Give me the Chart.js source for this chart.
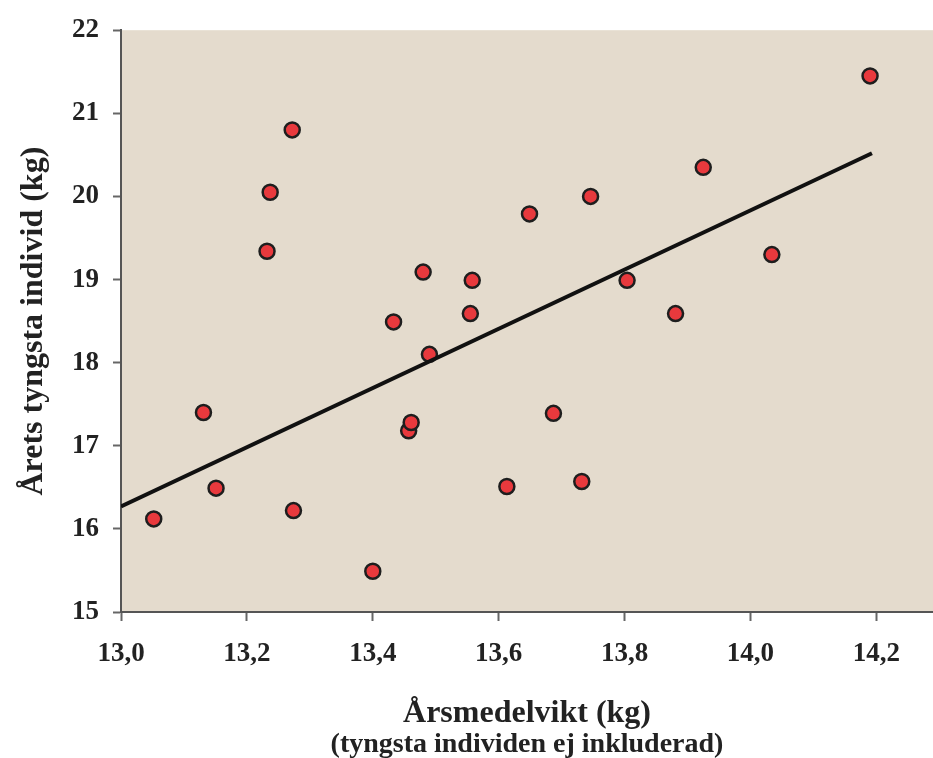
<!DOCTYPE html>
<html>
<head>
<meta charset="utf-8">
<script src="https://cdn.jsdelivr.net/npm/chart.js@4/dist/chart.umd.min.js"></script>
<style>
  html, body { margin: 0; padding: 0; background: #ffffff; }
  #wrap { width: 933px; height: 758px; }
</style>
</head>
<body>
<div id="wrap"><canvas id="c" width="933" height="758"></canvas></div>
<script>
// Årsmedelvikt (kg), x values
const xValues = [13.052, 13.131, 13.151, 13.232, 13.237, 13.272, 13.274, 13.400, 13.433, 13.457,
                 13.461, 13.480, 13.490, 13.555, 13.558, 13.613, 13.649, 13.687, 13.732, 13.746,
                 13.804, 13.881, 13.925, 14.034, 14.190];
// Årets tyngsta individ (kg), y values
const yValues = [16.12, 17.40, 16.49, 19.34, 20.05, 20.80, 16.22, 15.49, 18.49, 17.18,
                 17.28, 19.09, 18.10, 18.59, 18.99, 16.51, 19.79, 17.39, 16.57, 20.00,
                 18.99, 18.59, 20.35, 19.30, 21.45];
// Trend line end points
const trendX = [13.0, 14.193];
const trendY = [16.27, 20.52];
// Tick labels
const xTicks = [13.0, 13.2, 13.4, 13.6, 13.8, 14.0, 14.2];
const yTicks = [15, 16, 17, 18, 19, 20, 21, 22];

const scatterData = xValues.map((x, i) => ({ x: x, y: yValues[i] }));
const trendData = trendX.map((x, i) => ({ x: x, y: trendY[i] }));

const plotBg = {
  id: 'plotBg',
  beforeDraw(chart) {
    const { ctx, chartArea: a } = chart;
    ctx.save();
    ctx.fillStyle = '#e4dbcd';
    ctx.fillRect(a.left, a.top, a.right - a.left, a.bottom - a.top);
    ctx.restore();
  }
};

const serif = "'Liberation Serif', 'Times New Roman', serif";

new Chart(document.getElementById('c'), {
  type: 'scatter',
  data: {
    datasets: [
      {
        type: 'line',
        data: trendData,
        borderColor: '#111111',
        borderWidth: 4,
        pointRadius: 0,
        fill: false,
        tension: 0
      },
      {
        data: scatterData,
        backgroundColor: '#e8393d',
        borderColor: '#1e1e1e',
        borderWidth: 2.5,
        pointRadius: 7.5,
        pointHoverRadius: 7.5
      }
    ]
  },
  options: {
    responsive: false,
    animation: false,
    layout: { autoPadding: false, padding: { left: 0, right: 0, top: 25, bottom: 0 } },
    plugins: {
      legend: { display: false },
      tooltip: { enabled: false },
      title: {
        display: true,
        position: 'bottom',
        fullSize: false,
        text: '(tyngsta individen ej inkluderad)',
        color: '#222222',
        font: { family: serif, size: 28, weight: 'bold', lineHeight: 1.0 },
        padding: { top: -1, bottom: -1 }
      }
    },
    scales: {
      x: {
        type: 'linear',
        min: 13.0,
        max: 14.29,
        afterBuildTicks: (scale) => { scale.ticks = xTicks.map(v => ({ value: v })); },
        afterFit: (scale) => { scale.height = 120; },
        ticks: {
          autoSkip: false,
          maxRotation: 0,
          color: '#222222',
          font: { family: serif, size: 27, weight: 'bold' },
          padding: 17,
          callback: (v) => Number(v).toFixed(1).replace('.', ',')
        },
        grid: { drawOnChartArea: false, drawTicks: true, tickLength: 9, color: '#666666', tickWidth: 2 },
        border: { display: true, color: '#555555', width: 2 },
        title: {
          display: true,
          text: 'Årsmedelvikt (kg)',
          color: '#222222',
          font: { family: serif, size: 32, weight: 'bold', lineHeight: 1.0 },
          padding: { top: 0, bottom: 2 }
        }
      },
      y: {
        type: 'linear',
        min: 15,
        max: 22,
        afterBuildTicks: (scale) => { scale.ticks = yTicks.map(v => ({ value: v })); },
        afterFit: (scale) => { scale.width = 121; },
        ticks: {
          color: '#222222',
          font: { family: serif, size: 27, weight: 'bold' },
          padding: 14
        },
        grid: { drawOnChartArea: false, drawTicks: true, tickLength: 8, color: '#666666', tickWidth: 2 },
        border: { display: true, color: '#555555', width: 2 },
        title: {
          display: true,
          text: 'Årets tyngsta individ (kg)',
          color: '#222222',
          font: { family: serif, size: 32, weight: 'bold', lineHeight: 1.0 },
          padding: { top: 18, bottom: 0 }
        }
      }
    }
  },
  plugins: [plotBg]
});
</script>
</body>
</html>
